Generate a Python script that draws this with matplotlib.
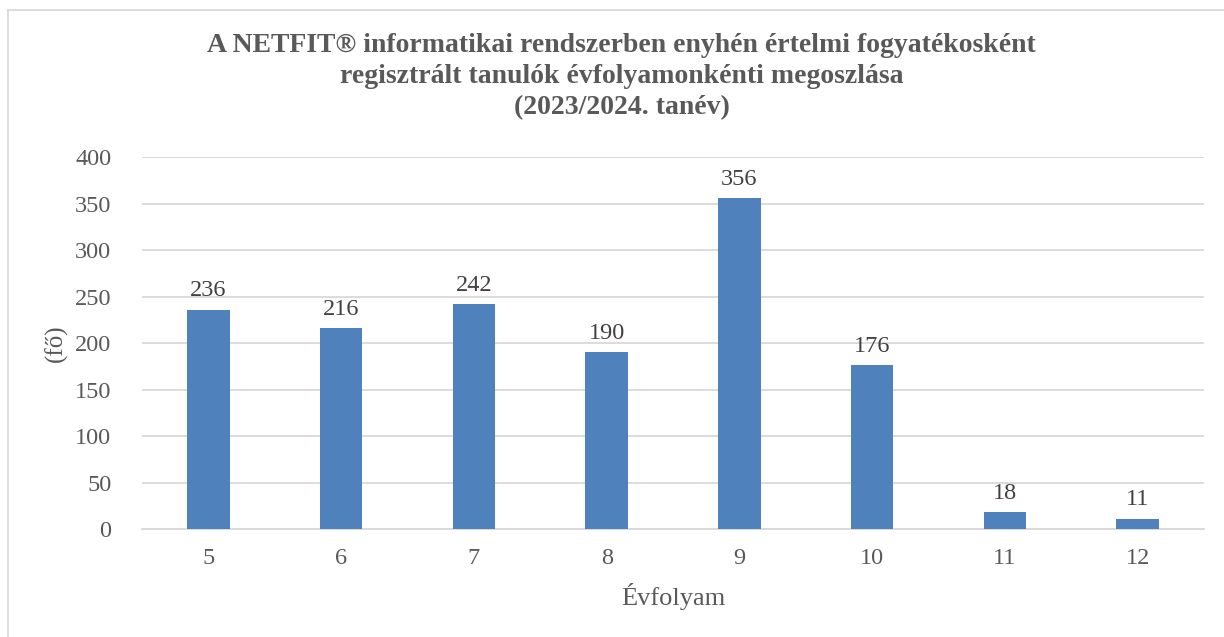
import matplotlib
matplotlib.use('Agg')
import matplotlib.pyplot as plt
from matplotlib.lines import Line2D
import numpy as np

# adatok
evfolyam = ['5', '6', '7', '8', '9', '10', '11', '12']
letszam = [236, 216, 242, 190, 356, 176, 18, 11]

cim = ('A NETFIT® informatikai rendszerben enyhén értelmi fogyatékosként\n'
       'regisztrált tanulók évfolyamonkénti megoszlása\n'
       '(2023/2024. tanév)')

szurke = '#595959'
plt.rcParams['font.family'] = ['Liberation Serif', 'DejaVu Serif']

fig = plt.figure(figsize=(12.24, 6.37), dpi=100)
ax = fig.add_axes([0.116, 0.1695, 0.8677, 0.584])

x = np.arange(len(evfolyam))
bars = ax.bar(x, letszam, width=0.32, color='#4F81BD', zorder=3)
for b, v in zip(bars, letszam):
    ax.annotate(str(v), (b.get_x() + b.get_width() / 2, v), xytext=(0, 6),
                textcoords='offset points', ha='center', va='bottom',
                fontsize=17.5, color='#404040')

ax.set_xlim(-0.5, len(evfolyam) - 0.5)
ax.set_ylim(0, 400)
ax.set_yticks(range(0, 401, 50))
ax.set_xticks(x)
ax.set_xticklabels(evfolyam)
ax.grid(axis='y', color='#D9D9D9', linewidth=1.3, zorder=0)
for s in ['top', 'right', 'left']:
    ax.spines[s].set_visible(False)
ax.spines['bottom'].set_color('#D9D9D9')
ax.spines['bottom'].set_linewidth(1.3)
ax.tick_params(length=0, labelsize=17.5, colors=szurke)
ax.tick_params(axis='y', pad=22)
ax.tick_params(axis='x', pad=14)

ax.set_xlabel('Évfolyam', fontsize=19, color=szurke, labelpad=10)
ax.set_ylabel('(fő)', fontsize=18, color=szurke, labelpad=5)

fig.text(0.508, 0.948, cim, ha='center', va='top', fontsize=20,
         fontweight='bold', color=szurke, linespacing=1.32)

# keret (bal és felső szél)
fig.add_artist(Line2D([0.0065, 0.0065], [0, 0.984], transform=fig.transFigure,
                      color='#D9D9D9', linewidth=1.3))
fig.add_artist(Line2D([0.0065, 1], [0.984, 0.984], transform=fig.transFigure,
                      color='#D9D9D9', linewidth=1.3))

fig.savefig('out.png', dpi=100)
